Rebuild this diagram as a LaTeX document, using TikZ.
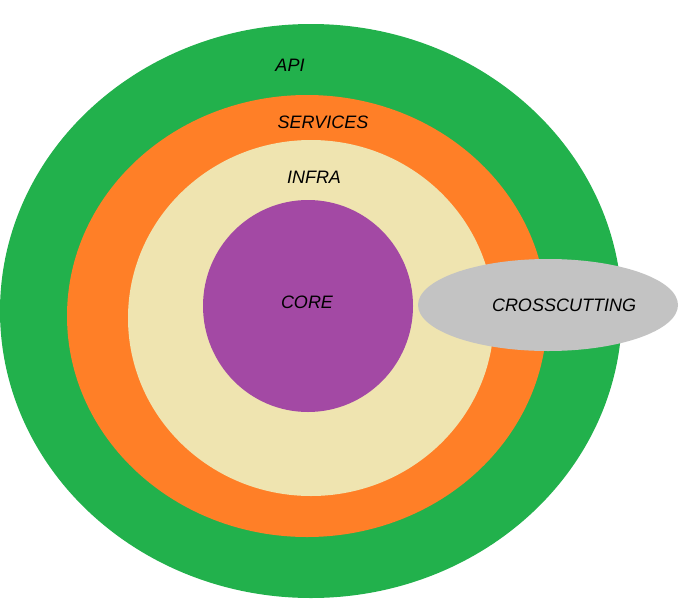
\documentclass[tikz,border=0pt]{standalone}
\usepackage{fontspec}
\setmainfont{Liberation Sans}
\definecolor{cgreen}{HTML}{22B14C}
\definecolor{corange}{HTML}{FF7F27}
\definecolor{ccream}{HTML}{EFE4B0}
\definecolor{cpurple}{HTML}{A349A4}
\definecolor{cgray}{HTML}{C3C3C3}
\tikzset{
  lbl/.style={font=\fontsize{18}{18}\selectfont\itshape, text=black, inner sep=0pt}
}
\usetikzlibrary{shapes.geometric}
\begin{document}
\begin{tikzpicture}[x=1pt,y=-1pt]
\useasboundingbox (0,0) rectangle (690,605);
\fill[cgreen] (311,311) ellipse [x radius=311, y radius=287];
\fill[corange] (307,316) ellipse [x radius=240, y radius=221];
\fill[ccream] (311,318) ellipse [x radius=183, y radius=178];
\fill[cpurple] (308,306) ellipse [x radius=105, y radius=106];
\fill[cgray] (548,305) ellipse [x radius=130, y radius=46];
\node[lbl] (api) at (290,65) {API};
\node[lbl] (services) at (323,122) {SERVICES};
\node[lbl] (infra) at (314,177) {INFRA};
\node[lbl] (core) at (307,302) {CORE};
\node[lbl] (cross) at (564,305) {CROSSCUTTING};
\end{tikzpicture}
\end{document}
